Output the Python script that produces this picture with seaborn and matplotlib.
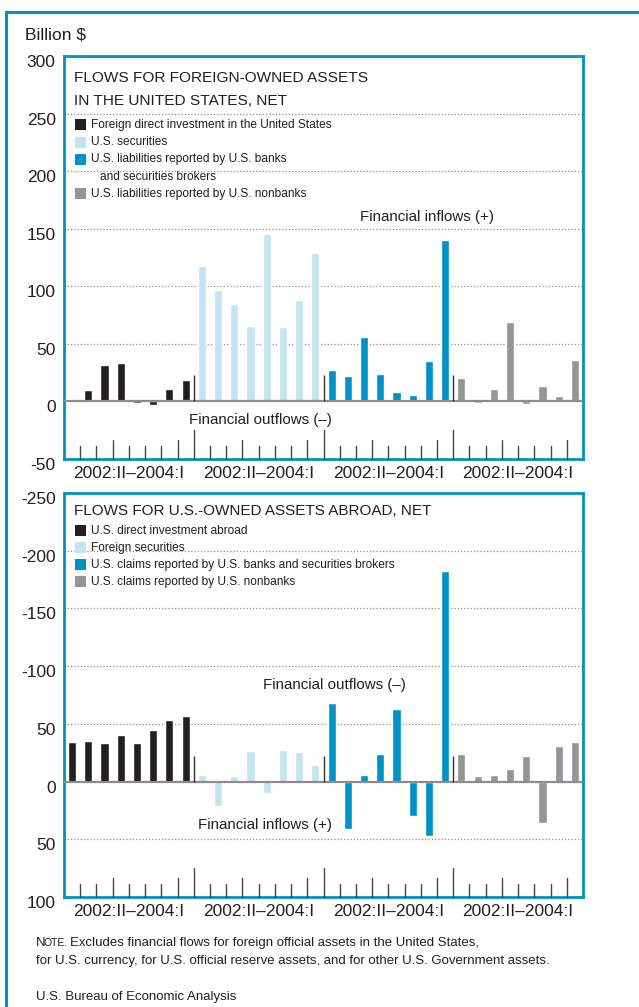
import numpy as np
import pandas as pd
import seaborn as sns
import matplotlib.pyplot as plt
from matplotlib import font_manager
from matplotlib.lines import Line2D
from matplotlib.patches import Rectangle
from matplotlib.transforms import ScaledTranslation

# quarters shown in every group, 2002:II to 2004:I
quarters = ["2002:II", "2002:III", "2002:IV", "2003:I", "2003:II", "2003:III", "2003:IV", "2004:I"]
period_label = "2002:II\u20132004:I"

# foreign-owned assets in the United States, net (billion $)
fdi_in_us = [2.5, 9.5, 32, 33, -1, -3.5, 10.5, 18.5]
us_securities = [118, 97, 84.5, 65.5, 145.5, 64.5, 88, 128.5]
us_liab_banks = [27.5, 22.5, 56, 24, 8.5, 6, 35.5, 140.5]
us_liab_nonbanks = [20.5, -1, 11, 69, -2.5, 13, 4.5, 36]

# U.S.-owned assets abroad, net (billion $, outflows are negative)
usdia = [-34.5, -35.5, -33.5, -40.5, -33.5, -45, -53.5, -57]
foreign_securities = [-6, 21.5, -5, -26.5, 9.5, -27.5, -26, -14.5]
us_claims_banks = [-68, 41, -6, -24, -63, 30, 47.5, -182]
us_claims_nonbanks = [-23.5, -4.5, -6, -11, -22.5, 36, -31, -34.5]

top_names = ["Foreign direct investment in the United States", "U.S. securities",
             "U.S. liabilities reported by U.S. banks", "U.S. liabilities reported by U.S. nonbanks"]
bottom_names = ["U.S. direct investment abroad", "Foreign securities",
                "U.S. claims reported by U.S. banks and securities brokers",
                "U.S. claims reported by U.S. nonbanks"]
colors = ["#231f20", "#c4e3f3", "#0091c7", "#939598"]

top_ticks = [300, 250, 200, 150, 100, 50, 0, -50]
top_ticklabels = ["300", "250", "200", "150", "100", "50", "0", "-50"]
bottom_ticks = [-250, -200, -150, -100, -50, 0, 50, 100]
bottom_ticklabels = ["-250", "-200", "-150", "-100", "50", "0", "50", "100"]

BLUE = "#0091c7"
INK = "#231f20"
W, H = 639, 1007

sns.set_style("white")
names = {f.name for f in font_manager.fontManager.ttflist}
NARROW = "Liberation Sans Narrow" if "Liberation Sans Narrow" in names else "Liberation Sans"
plt.rcParams["font.family"] = ["Liberation Sans", "DejaVu Sans"]


def fx(px):
    return px / W


def fy(py):
    return 1 - py / H


def make_frame(names, values):
    rows = []
    for name, vals in zip(names, values):
        for q, v in zip(quarters, vals):
            rows.append(dict(slot=f"{name} {q}", series=name, value=v))
    return pd.DataFrame(rows)


def draw_panel(ax, names, values, ylim, ticks, ticklabels, grid, sep_height):
    df = make_frame(names, values)
    sns.barplot(df, x="slot", y="value", hue="series", palette=dict(zip(names, colors)),
                dodge=False, width=0.5, saturation=1, errorbar=None, legend=False,
                ax=ax, zorder=2)
    ax.set_xlim(-0.5, len(df) - 0.5)
    ax.set_ylim(*ylim)
    for g in grid:
        ax.axhline(g, color="#8f8f8f", lw=0.9, ls=(0, (1, 1.6)), zorder=1)
    ax.axhline(0, color="#8c8c8c", lw=1.6, zorder=3)

    # group separators rising from the zero line
    n = len(quarters)
    seps = [i * n - 0.5 for i in range(1, len(names))]
    ax.vlines(seps, 0, sep_height, color="#333333", lw=1, zorder=3)

    # quarter ticks standing on the bottom edge
    tr = ax.get_xaxis_transform()
    for i in range(len(df) - 1):
        k = i % n
        if k == n - 1:
            h = 29
        elif k in (2, 6):
            h = 19
        else:
            h = 13
        ax.plot([i + 0.5, i + 0.5], [0, h / 403], transform=tr, color="#444444", lw=1,
                zorder=3, clip_on=False)

    ax.set_xticks([i * n + (n - 1) / 2 for i in range(len(names))], [period_label] * len(names))
    ax.set_yticks(ticks, ticklabels)
    ax.tick_params(axis="both", length=0, labelsize=12.5, colors=INK)
    ax.tick_params(axis="x", pad=5)
    ax.tick_params(axis="y", pad=6)
    shift = ScaledTranslation(0, -5 / 100, ax.figure.dpi_scale_trans)
    for lab in ax.get_yticklabels():
        lab.set_transform(lab.get_transform() + shift)
    ax.set_xlabel("")
    ax.set_ylabel("")
    for sp in ax.spines.values():
        sp.set_visible(True)
        sp.set_color(BLUE)
        sp.set_linewidth(2)


def legend(fig, entries, x0, y0, step):
    for i, (label, color) in enumerate(entries):
        y = y0 + i * step
        if color is not None:
            fig.add_artist(Rectangle((fx(75), fy(y + 5.5)), 11 / W, 11 / H,
                                     transform=fig.transFigure, color=color, lw=0))
        fig.text(fx(x0 if color is not None else x0 + 9), fy(y), label, family=NARROW,
                 fontsize=8.6, color=INK, va="center", ha="left")


fig = plt.figure(figsize=(W / 100, H / 100), dpi=100)

ax1 = fig.add_axes([fx(64), fy(459), (583 - 64) / W, (459 - 56) / H])
draw_panel(ax1, top_names, [fdi_in_us, us_securities, us_liab_banks, us_liab_nonbanks],
           (-50, 300), top_ticks, top_ticklabels, [50, 100, 150, 200, 250], 23)

ax2 = fig.add_axes([fx(64), fy(897), (583 - 64) / W, (897 - 493) / H])
draw_panel(ax2, bottom_names, [usdia, foreign_securities, us_claims_banks, us_claims_nonbanks],
           (100, -250), bottom_ticks, bottom_ticklabels, [-200, -150, -100, -50, 50], -22)

# outer frame
fig.add_artist(Line2D([fx(6), 1], [fy(12), fy(12)], transform=fig.transFigure, color=BLUE, lw=2.2))
fig.add_artist(Line2D([fx(6), fx(6)], [fy(12), 0], transform=fig.transFigure, color=BLUE, lw=2.2))

fig.text(fx(25), fy(35), "Billion $", fontsize=12.5, color=INK, va="center")

# top panel titles and legend
fig.text(fx(74), fy(78), "FLOWS FOR FOREIGN-OWNED ASSETS", family=NARROW, fontsize=11.1,
         color=INK, va="center")
fig.text(fx(74), fy(101), "IN THE UNITED STATES, NET", family=NARROW, fontsize=11.1,
         color=INK, va="center")
legend(fig, [(top_names[0], colors[0]), (top_names[1], colors[1]), (top_names[2], colors[2]),
             ("and securities brokers", None), (top_names[3], colors[3])], 91, 125, 17.2)
fig.text(fx(360), fy(217), "Financial inflows (+)", family=NARROW, fontsize=10.9, color=INK, va="center")
fig.text(fx(189), fy(420), "Financial outflows (\u2013)", family=NARROW, fontsize=10.9, color=INK,
         va="center")

# bottom panel titles and legend
fig.text(fx(74), fy(511), "FLOWS FOR U.S.-OWNED ASSETS ABROAD, NET", family=NARROW, fontsize=11.0,
         color=INK, va="center")
legend(fig, list(zip(bottom_names, colors)), 91, 530.5, 17.1)
fig.text(fx(263), fy(685), "Financial outflows (\u2013)", family=NARROW, fontsize=10.9, color=INK,
         va="center")
fig.text(fx(198), fy(825), "Financial inflows (+)", family=NARROW, fontsize=10.9, color=INK, va="center")

# note and source
fig.text(fx(36), fy(946), "N", fontsize=9.5, color=INK, va="baseline")
fig.text(fx(36) + 8 / W, fy(946), "OTE.", fontsize=7.5, color=INK, va="baseline")
fig.text(fx(36) + 34 / W, fy(946), "Excludes financial flows for foreign official assets in the United States,",
         fontsize=9.5, color=INK, va="baseline")
fig.text(fx(36), fy(964), "for U.S. currency, for U.S. official reserve assets, and for other U.S. Government assets.",
         fontsize=9.5, color=INK, va="baseline")
fig.text(fx(36), fy(1000), "U.S. Bureau of Economic Analysis", fontsize=9.5,
         color=INK, va="baseline")

fig.savefig("out.png", dpi=100)
